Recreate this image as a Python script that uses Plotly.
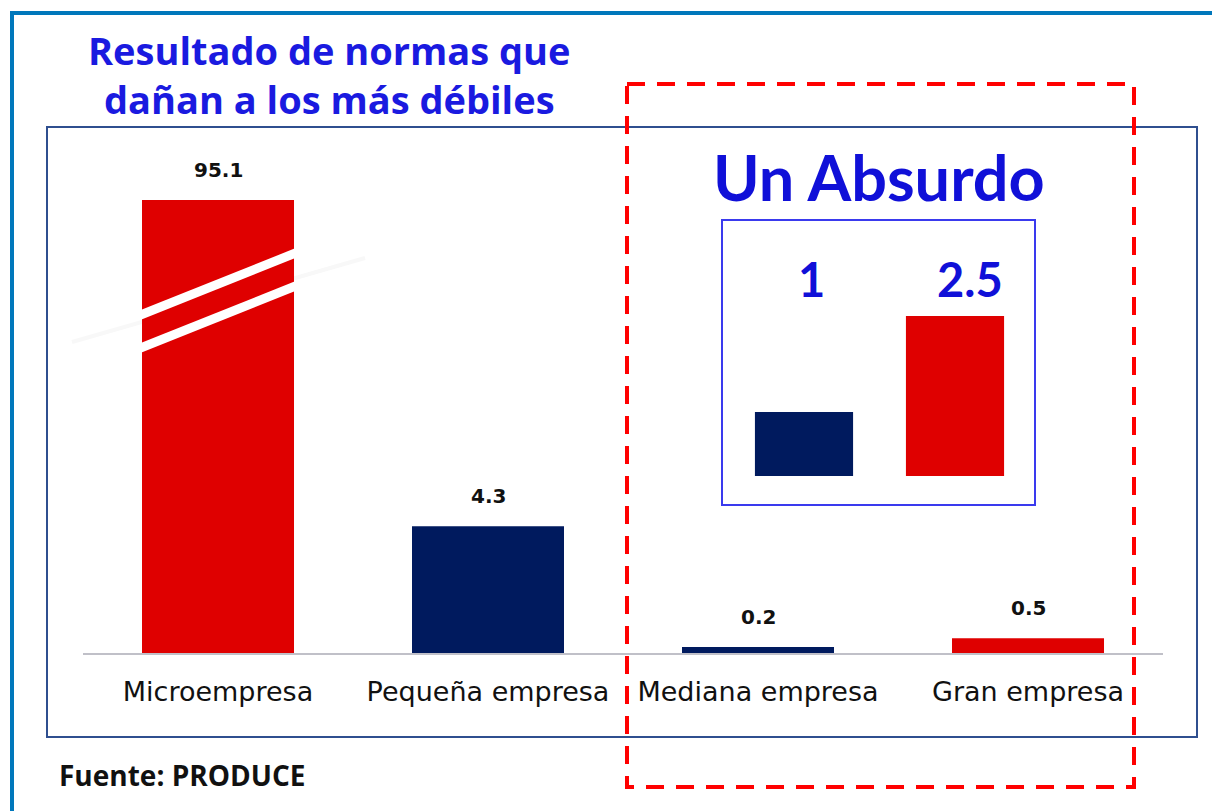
import plotly.graph_objects as go

# ---- data ----
categories = ["Microempresa", "Pequeña empresa", "Mediana empresa", "Gran empresa"]
values = [95.1, 4.3, 0.2, 0.5]
bar_colors = ["#DF0000", "#001A5E", "#001A5E", "#DF0000"]
y_axis_cap = 15.36  # broken axis: the tallest bar is cut here

inset_categories = ["Mediana", "Grande"]
inset_values = [1, 2.5]
inset_labels = ["1", "2.5"]
inset_colors = ["#001A5E", "#DF0000"]

W, H = 1220, 811
OFF = 8  # page body margin


def px(x):
    return (x - OFF) / W


def py(y):
    return 1 - (y - OFF) / H


fig = go.Figure()

fig.add_trace(go.Bar(
    x=categories, y=values, marker=dict(color=bar_colors, line=dict(width=0)),
    xaxis="x", yaxis="y", showlegend=False, hoverinfo="x+y",
))

fig.add_trace(go.Bar(
    x=inset_categories, y=inset_values, marker=dict(color=inset_colors, line=dict(width=0)),
    xaxis="x2", yaxis="y2", showlegend=False, hoverinfo="y", width=0.65,
))

annotations = []
# value labels above bars
for c, v in zip(categories, values):
    annotations.append(dict(
        x=c, y=min(v, y_axis_cap), xref="x", yref="y", text=f"<b>{v}</b>",
        showarrow=False, yanchor="bottom", yshift=16,
        font=dict(family="DejaVu Sans", size=20, color="#111111"),
    ))
# inset labels
for c, lab, xs in zip(inset_categories, inset_labels, [7, 15]):
    annotations.append(dict(
        x=c, y=py(279), xref="x2", yref="paper", text=f"<b>{lab}</b>",
        showarrow=False, xshift=xs, yanchor="middle",
        font=dict(family="Lato", size=47, color="#1010D8"),
    ))
annotations += [
    dict(x=px(329), y=py(75), xref="paper", yref="paper", showarrow=False,
         text="<b>Resultado de normas que</b><br><b>dañan a los más débiles</b>",
         xanchor="center", yanchor="middle", align="center",
         font=dict(family="Open Sans", size=38, color="#1A1AE0")),
    dict(x=px(879), y=py(176), xref="paper", yref="paper", showarrow=False,
         text="<b>Un Absurdo</b>", xanchor="center", yanchor="middle",
         font=dict(family="Lato", size=63, color="#1010D8")),
    dict(x=px(57), y=py(775), xref="paper", yref="paper", showarrow=False,
         text="<b>Fuente: PRODUCE</b>", xanchor="left", yanchor="middle",
         font=dict(family="Open Sans", size=28, color="#111111")),
]

shapes = [
    # outer slide border (top + left)
    dict(type="line", xref="paper", yref="paper", x0=px(12), x1=1, y0=py(13), y1=py(13),
         line=dict(color="#0077BB", width=4)),
    dict(type="line", xref="paper", yref="paper", x0=px(12), x1=px(12), y0=py(11), y1=0,
         line=dict(color="#0077BB", width=4)),
    # chart frame
    dict(type="rect", xref="paper", yref="paper", x0=px(47), x1=px(1197), y0=py(127), y1=py(737),
         line=dict(color="#2F4F8F", width=2), layer="below"),
    # inset frame
    dict(type="rect", xref="paper", yref="paper", x0=px(722), x1=px(1035), y0=py(220), y1=py(505),
         line=dict(color="#3A3AEE", width=2)),
    # faint shadow line of the break
    dict(type="line", xref="paper", yref="paper", x0=px(72), x1=px(365), y0=py(342), y1=py(258),
         line=dict(color="#F8F8F8", width=4), layer="below"),
    # break stripes on the tallest bar
    dict(type="line", xref="paper", yref="paper", x0=px(138), x1=px(298), y0=py(316), y1=py(252),
         line=dict(color="white", width=9)),
    dict(type="line", xref="paper", yref="paper", x0=px(138), x1=px(298), y0=py(349), y1=py(285),
         line=dict(color="white", width=9)),
    # red dashed highlight
    dict(type="rect", xref="paper", yref="paper", x0=px(627), x1=px(1134), y0=py(84), y1=py(787),
         line=dict(color="#FF0000", width=4, dash="18px,12px")),
]

fig.update_layout(
    width=W, height=H,
    margin=dict(l=0, r=0, t=0, b=0),
    paper_bgcolor="white", plot_bgcolor="rgba(0,0,0,0)",
    bargap=0.437,
    xaxis=dict(domain=[px(83), px(1163)], showgrid=False, zeroline=False,
               showline=True, linecolor="#C0C0C8", linewidth=2,
               ticks="", ticklabelstandoff=14,
               tickfont=dict(family="DejaVu Sans", size=27, color="#111111")),
    yaxis=dict(domain=[py(653), py(200)], range=[0, y_axis_cap], visible=False,
               showgrid=False, zeroline=False),
    xaxis2=dict(domain=[px(728.5), px(1030.5)], anchor="y2", visible=False,
                showgrid=False, zeroline=False),
    yaxis2=dict(domain=[py(476), py(220)], range=[0, 4.0], anchor="x2", visible=False,
                showgrid=False, zeroline=False),
    annotations=annotations,
    shapes=shapes,
)

fig.write_html("out.html")
